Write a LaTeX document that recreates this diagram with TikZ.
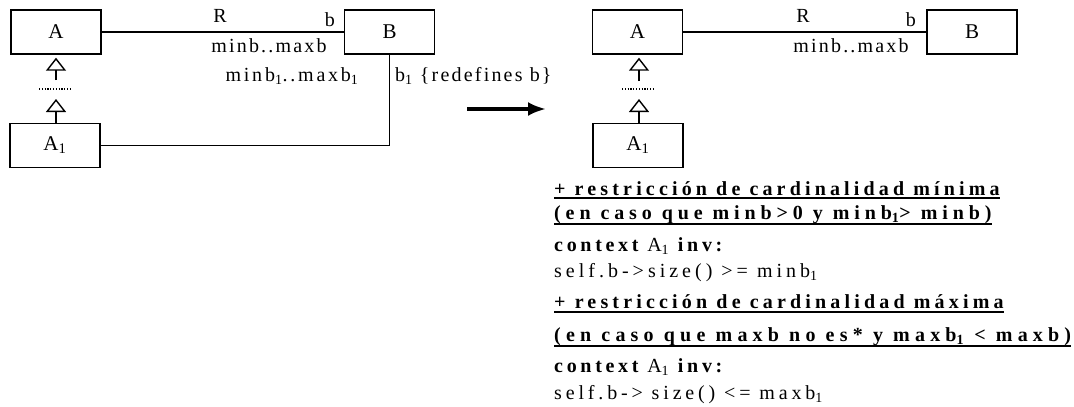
\documentclass[tikz,border=0pt]{standalone}
\usepackage{fontspec}
\setmainfont{Liberation Serif}
\newfontfamily\lslbl[LetterSpace=11]{Liberation Serif}
\newfontfamily\lslblw[LetterSpace=14]{Liberation Serif}
\usetikzlibrary{arrows.meta}
\begin{document}
\begin{tikzpicture}[x=1pt,y=-1pt,
  cls/.style={draw, line width=1.4pt, minimum width=90pt, minimum height=44pt, inner sep=0pt, font=\fontsize{21}{23}\selectfont},
  assoc/.style={line width=1.4pt},
  inh/.style={line width=1.4pt, -{Triangle[open,length=13pt,width=20pt]}},
  dotline/.style={line width=2pt, dash pattern=on 1.2pt off 1.6pt},
  lbl/.style={inner sep=0pt, font=\fontsize{20}{22}\selectfont\lslbl},
  txt/.style={inner sep=0pt, anchor=base west, font=\fontsize{20}{22}\selectfont\addfontfeature{LetterSpace=#1}},
  btxt/.style={inner sep=0pt, anchor=base west, font=\fontsize{20}{22}\selectfont\bfseries\addfontfeature{LetterSpace=#1}},
  uline/.style={line width=2.2pt},
  bigarrow/.style={line width=3.5pt, -{Latex[length=18pt,width=14pt]}}
]
\useasboundingbox (0,0) rectangle (1074,407);
% ---------- left diagram ----------
\node[cls] (A) at (56,32) {A};
\node[cls] (B) at (389.5,32) {B};
\node[cls] (A1) at (55,145.5) {A\textsubscript{1}};
\draw[assoc] (A) -- (B);
\draw[assoc] (A1.east) -| (B.south);
\node[lbl] (R) at (220,16) {R};
\node[lbl, anchor=base east] (bl) at (335,26) {b};
\node[lbl, anchor=base] (mm) at (269,52) {minb..maxb};
\node[lbl, anchor=base, font=\fontsize{20}{22}\selectfont\lslblw] (mm1) at (292,81) {minb\textsubscript{1}..maxb\textsubscript{1}};
\node[lbl, anchor=base west] (red) at (395,81) {b\textsubscript{1} \{redefines b\}};
\coordinate (s1) at (56,80);
\coordinate (dl) at (39,89);
\coordinate (dr) at (72,89);
\coordinate (t2) at (56,99);
\draw[inh] (s1) -- ([yshift=-3pt]A.south);
\draw[dotline] (dl) -- (dr);
\draw[inh] (A1.north -| t2) -- (t2);
% ---------- arrow ----------
\coordinate (arS) at (467,109);
\coordinate (arE) at (546,109);
\draw[bigarrow] (arS) -- (arE);
% ---------- right diagram ----------
\node[cls] (RA) at (637.5,32) {A};
\node[cls] (RB) at (972,32) {B};
\node[cls] (RA1) at (638,145.5) {A\textsubscript{1}};
\draw[assoc] (RA) -- (RB);
\node[lbl] (RR) at (803,16) {R};
\node[lbl, anchor=base east] (rbl) at (916,26) {b};
\node[lbl, anchor=base] (rmm) at (851,52) {minb..maxb};
\coordinate (rs1) at (639,81);
\coordinate (rdl) at (622,89);
\coordinate (rdr) at (655,89);
\coordinate (rt2) at (639,99);
\draw[inh] (rs1) -- ([yshift=-3pt]RA.south -| rs1);
\draw[dotline] (rdl) -- (rdr);
\draw[inh] (RA1.north -| rt2) -- (rt2);
% ---------- OCL text ----------
\node[btxt=20.8] (l1) at (554,195) {+ restricción de cardinalidad mínima};
\node[btxt=24.5] (l2) at (554,219) {(en caso que minb>0 y minb\textsubscript{1}> minb)};
\node[txt=18.5] (l3) at (554,251) {{\bfseries context} A\textsubscript{1} {\bfseries inv:}};
\node[txt=20] (l4) at (554,277) {self.b->size() >= minb\textsubscript{1}};
\node[btxt=20.9] (l5) at (554,308) {+ restricción de cardinalidad máxima};
\node[btxt=26] (l6) at (554,341) {(en caso que maxb no es* y maxb\textsubscript{1} < maxb)};
\node[txt=18.5] (l7) at (554,372) {{\bfseries context} A\textsubscript{1} {\bfseries inv:}};
\node[txt=19.2] (l8) at (554,399) {self.b-> size() <= maxb\textsubscript{1}};
\draw[uline] ([yshift=-3pt]l1.base west) -- ([yshift=-3pt]l1.base east);
\draw[uline] ([yshift=-5pt]l2.base west) -- ([yshift=-5pt]l2.base east);
\draw[uline] ([yshift=-4pt]l5.base west) -- ([yshift=-4pt]l5.base east);
\draw[uline] ([yshift=-5pt]l6.base west) -- ([yshift=-5pt]l6.base east);
\end{tikzpicture}
\end{document}
